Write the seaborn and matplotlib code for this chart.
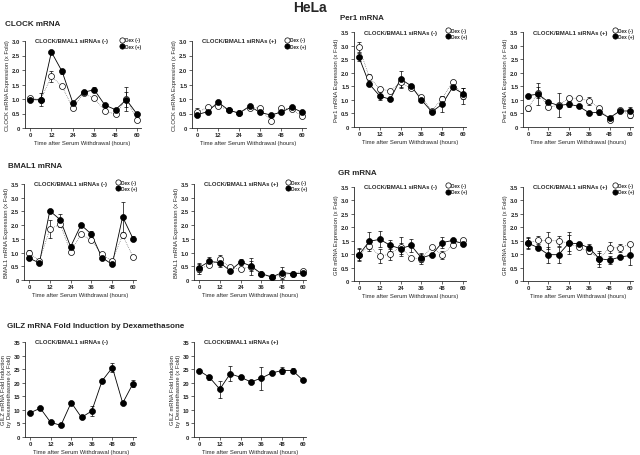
import numpy as np
import pandas as pd
import seaborn as sns
import matplotlib
matplotlib.use("Agg")
import matplotlib.pyplot as plt
from matplotlib.lines import Line2D

# time points (hours after serum withdrawal)
hours = [0, 6, 12, 18, 24, 30, 36, 42, 48, 54, 60]

# CLOCK mRNA
clock_ctrl_dexm = [1.02, 0.98, 1.78, 1.44, 0.68, 1.20, 1.02, 0.60, 0.47, 1.00, 0.29]
clock_ctrl_dexm_err = [0.05, 0.05, 0.18, 0.05, 0.04, 0.06, 0.05, 0.04, 0.04, 0.40, 0.10]
clock_ctrl_dexp = [0.98, 0.97, 2.62, 1.95, 0.87, 1.23, 1.32, 0.79, 0.63, 0.98, 0.48]
clock_ctrl_dexp_err = [0.04, 0.22, 0.05, 0.08, 0.05, 0.06, 0.08, 0.05, 0.05, 0.25, 0.08]
clock_kd_dexm = [0.54, 0.71, 0.75, 0.63, 0.51, 0.70, 0.69, 0.25, 0.69, 0.66, 0.40]
clock_kd_dexm_err = [0.15, 0.05, 0.05, 0.04, 0.04, 0.05, 0.05, 0.04, 0.05, 0.04, 0.04]
clock_kd_dexp = [0.46, 0.56, 0.89, 0.62, 0.51, 0.75, 0.54, 0.45, 0.54, 0.72, 0.54]
clock_kd_dexp_err = [0.05, 0.05, 0.06, 0.04, 0.04, 0.05, 0.05, 0.05, 0.05, 0.04, 0.06]

# Per1 mRNA
per1_ctrl_dexm = [2.94, 1.83, 1.40, 1.33, 1.64, 1.42, 1.12, 0.60, 1.05, 1.67, 1.15]
per1_ctrl_dexm_err = [0.18, 0.12, 0.08, 0.05, 0.20, 0.05, 0.06, 0.05, 0.08, 0.05, 0.30]
per1_ctrl_dexp = [2.57, 1.58, 1.14, 1.02, 1.77, 1.52, 1.00, 0.56, 0.84, 1.46, 1.23]
per1_ctrl_dexp_err = [0.15, 0.06, 0.15, 0.05, 0.30, 0.05, 0.08, 0.05, 0.30, 0.06, 0.20]
per1_kd_dexm = [0.69, 1.27, 0.72, 0.81, 1.06, 1.06, 0.96, 0.69, 0.25, 0.62, 0.44]
per1_kd_dexm_err = [0.10, 0.20, 0.05, 0.45, 0.06, 0.05, 0.15, 0.05, 0.05, 0.05, 0.10]
per1_kd_dexp = [1.16, 1.21, 0.92, 0.79, 0.84, 0.76, 0.52, 0.54, 0.34, 0.59, 0.59]
per1_kd_dexp_err = [0.05, 0.40, 0.05, 0.10, 0.12, 0.05, 0.05, 0.08, 0.05, 0.05, 0.15]

# BMAL1 mRNA
bmal1_ctrl_dexm = [1.00, 0.70, 1.85, 2.04, 1.02, 1.67, 1.45, 0.93, 0.70, 1.63, 0.85]
bmal1_ctrl_dexm_err = [0.08, 0.05, 0.33, 0.10, 0.08, 0.05, 0.08, 0.05, 0.05, 0.10, 0.05]
bmal1_ctrl_dexp = [0.80, 0.62, 2.52, 2.20, 1.21, 2.01, 1.67, 0.82, 0.57, 2.30, 1.51]
bmal1_ctrl_dexp_err = [0.08, 0.05, 0.08, 0.22, 0.12, 0.05, 0.10, 0.05, 0.05, 0.55, 0.10]
bmal1_kd_dexm = [0.41, 0.54, 0.76, 0.46, 0.39, 0.49, 0.21, 0.10, 0.20, 0.23, 0.33]
bmal1_kd_dexm_err = [0.20, 0.05, 0.15, 0.05, 0.05, 0.30, 0.05, 0.03, 0.05, 0.03, 0.05]
bmal1_kd_dexp = [0.45, 0.68, 0.63, 0.34, 0.66, 0.51, 0.23, 0.11, 0.27, 0.23, 0.25]
bmal1_kd_dexp_err = [0.15, 0.15, 0.15, 0.05, 0.12, 0.20, 0.05, 0.03, 0.22, 0.03, 0.05]

# GR mRNA
gr_ctrl_dexm = [0.98, 1.30, 0.93, 1.00, 1.27, 0.86, 0.83, 1.27, 0.96, 1.35, 1.51]
gr_ctrl_dexm_err = [0.25, 0.12, 0.25, 0.20, 0.35, 0.05, 0.20, 0.05, 0.15, 0.05, 0.05]
gr_ctrl_dexp = [0.98, 1.48, 1.55, 1.33, 1.20, 1.33, 0.86, 0.98, 1.43, 1.51, 1.39]
gr_ctrl_dexp_err = [0.20, 0.35, 0.30, 0.20, 0.20, 0.25, 0.15, 0.05, 0.20, 0.05, 0.10]
gr_kd_dexm = [1.43, 1.51, 1.51, 1.49, 1.41, 1.25, 1.10, 0.83, 1.24, 1.23, 1.38]
gr_kd_dexm_err = [0.20, 0.15, 0.30, 0.20, 0.40, 0.05, 0.10, 0.30, 0.20, 0.15, 0.05]
gr_kd_dexp = [1.41, 1.24, 0.98, 0.98, 1.41, 1.39, 1.23, 0.83, 0.78, 0.89, 0.95]
gr_kd_dexp_err = [0.20, 0.05, 0.30, 0.30, 0.30, 0.05, 0.15, 0.20, 0.15, 0.05, 0.35]

# GILZ fold induction
gilz_ctrl = [8.9, 10.6, 5.4, 4.3, 12.7, 7.2, 9.6, 20.7, 25.6, 12.5, 19.7]
gilz_ctrl_err = [0.5, 0.5, 0.5, 0.5, 0.5, 0.5, 2.0, 0.5, 1.5, 0.5, 1.3]
gilz_kd = [24.5, 22.0, 17.6, 23.3, 22.0, 20.3, 21.7, 23.6, 24.5, 24.5, 20.9]
gilz_kd_err = [0.6, 1.0, 3.2, 2.8, 0.8, 0.6, 4.2, 0.6, 1.2, 0.8, 0.5]

sns.set_style("ticks")
plt.rcParams['font.family'] = ['Liberation Sans', 'DejaVu Sans']
plt.rcParams['font.weight'] = 'bold'

W, H = 640, 456
fig = plt.figure(figsize=(6.4, 4.56), dpi=100)


def make_ax(x0, x60, ytop, ybot):
    # place axes from pixel positions of data x=0, x=60 and y range
    s = (x60 - x0) / 60.0
    left = x0 - 3 * s
    right = x60 + 2 * s
    return fig.add_axes([left / W, 1 - ybot / H, (right - left) / W, (ybot - ytop) / H])


def draw(ax, series, ymax, ystep, ylabel, subtitle, legend=True):
    for vals, errs, filled in series:
        df = pd.DataFrame({"hours": hours, "value": vals})
        ax.errorbar(hours, vals, yerr=errs, fmt='none', ecolor='black',
                    elinewidth=0.5, capsize=1.2, capthick=0.5, zorder=2)
        sns.lineplot(data=df, x="hours", y="value", ax=ax,
                     color='black' if filled else '#555555',
                     lw=0.6 if filled else 0.5,
                     linestyle='-' if filled else ':', zorder=3)
        ax.plot(hours, vals, 'o', ms=4.3, mec='black', mew=0.5,
                mfc='black' if filled else 'white', zorder=4)
    ax.set_xlim(-3, 62)
    ax.set_ylim(0, ymax)
    ax.set_xticks([0, 12, 24, 36, 48, 60])
    yt = np.arange(0, ymax + ystep / 2, ystep)
    ax.set_yticks(yt)
    ax.set_yticklabels(['0'] + [('%g' % v if ystep >= 1 else '%.1f' % v) for v in yt[1:]])
    ax.tick_params(labelsize=4.2, width=0.5, length=2, pad=1.2)
    for sp in ['left', 'bottom']:
        ax.spines[sp].set_linewidth(0.6)
    sns.despine(ax=ax)
    ax.set_xlabel("Time after Serum Withdrawal (hours)", fontsize=4.2, labelpad=1.5)
    ax.set_ylabel(ylabel, fontsize=4.2, labelpad=1.5)
    ax.text(0.09, 1.0, subtitle, transform=ax.transAxes, fontsize=4.2,
            va='center', ha='left')
    if legend:
        handles = [Line2D([], [], marker='o', ls='none', ms=3.8, mec='black',
                          mew=0.5, mfc='white'),
                   Line2D([], [], marker='o', ls='none', ms=3.8, mec='black',
                          mew=0.5, mfc='black')]
        ax.legend(handles, ["Dex (-)", "Dex (+)"], loc='upper right',
                  bbox_to_anchor=(1.02, 1.06), frameon=False, fontsize=3.4,
                  handlelength=0.6, handletextpad=0.4, labelspacing=0.3,
                  borderpad=0.2, borderaxespad=0.1)


neg = "CLOCK/BMAL1 siRNAs (-)"
pos = "CLOCK/BMAL1 siRNAs (+)"

ax = make_ax(30, 137, 42, 129)
draw(ax, [(clock_ctrl_dexm, clock_ctrl_dexm_err, False),
          (clock_ctrl_dexp, clock_ctrl_dexp_err, True)],
     3.0, 0.5, "CLOCK mRNA Expression (x Fold)", neg)
ax = make_ax(197, 302, 42, 129)
draw(ax, [(clock_kd_dexm, clock_kd_dexm_err, False),
          (clock_kd_dexp, clock_kd_dexp_err, True)],
     3.0, 0.5, "CLOCK mRNA Expression (x Fold)", pos)

ax = make_ax(359, 463, 33, 128)
draw(ax, [(per1_ctrl_dexm, per1_ctrl_dexm_err, False),
          (per1_ctrl_dexp, per1_ctrl_dexp_err, True)],
     3.5, 0.5, "Per1 mRNA Expression (x Fold)", neg)
ax = make_ax(528, 630, 33, 128)
draw(ax, [(per1_kd_dexm, per1_kd_dexm_err, False),
          (per1_kd_dexp, per1_kd_dexp_err, True)],
     3.5, 0.5, "Per1 mRNA Expression (x Fold)", pos)

ax = make_ax(29, 133, 185, 281)
draw(ax, [(bmal1_ctrl_dexm, bmal1_ctrl_dexm_err, False),
          (bmal1_ctrl_dexp, bmal1_ctrl_dexp_err, True)],
     3.5, 0.5, "BMAL1 mRNA Expression (x Fold)", neg)
ax = make_ax(199, 303, 185, 281)
draw(ax, [(bmal1_kd_dexm, bmal1_kd_dexm_err, False),
          (bmal1_kd_dexp, bmal1_kd_dexp_err, True)],
     3.5, 0.5, "BMAL1 mRNA Expression (x Fold)", pos)

ax = make_ax(359, 463, 188, 282)
draw(ax, [(gr_ctrl_dexm, gr_ctrl_dexm_err, False),
          (gr_ctrl_dexp, gr_ctrl_dexp_err, True)],
     3.5, 0.5, "GR mRNA Expression (x Fold)", neg)
ax = make_ax(528, 630, 188, 282)
draw(ax, [(gr_kd_dexm, gr_kd_dexm_err, False),
          (gr_kd_dexp, gr_kd_dexp_err, True)],
     3.5, 0.5, "GR mRNA Expression (x Fold)", pos)

ax = make_ax(30, 133, 343, 438)
draw(ax, [(gilz_ctrl, gilz_ctrl_err, True)], 35, 5,
     "GILZ mRNA Fold Induction\nby Dexamethasone (x Fold)", neg, legend=False)
ax = make_ax(199, 303, 343, 438)
draw(ax, [(gilz_kd, gilz_kd_err, True)], 35, 5,
     "GILZ mRNA Fold Induction\nby Dexamethasone (x Fold)", pos, legend=False)

# headings
fig.text(310 / W, 1 - 8 / H, "HeLa", ha='center', va='center', fontsize=10)
fig.text(5 / W, 1 - 25 / H, "CLOCK mRNA", ha='left', va='center', fontsize=5.8)
fig.text(340 / W, 1 - 19 / H, "Per1 mRNA", ha='left', va='center', fontsize=5.8)
fig.text(8 / W, 1 - 167 / H, "BMAL1 mRNA", ha='left', va='center', fontsize=5.8)
fig.text(338 / W, 1 - 174 / H, "GR mRNA", ha='left', va='center', fontsize=5.8)
fig.text(7 / W, 1 - 326 / H, "GILZ mRNA Fold Induction by Dexamethasone",
         ha='left', va='center', fontsize=5.8)

plt.savefig("out.png", dpi=100)
